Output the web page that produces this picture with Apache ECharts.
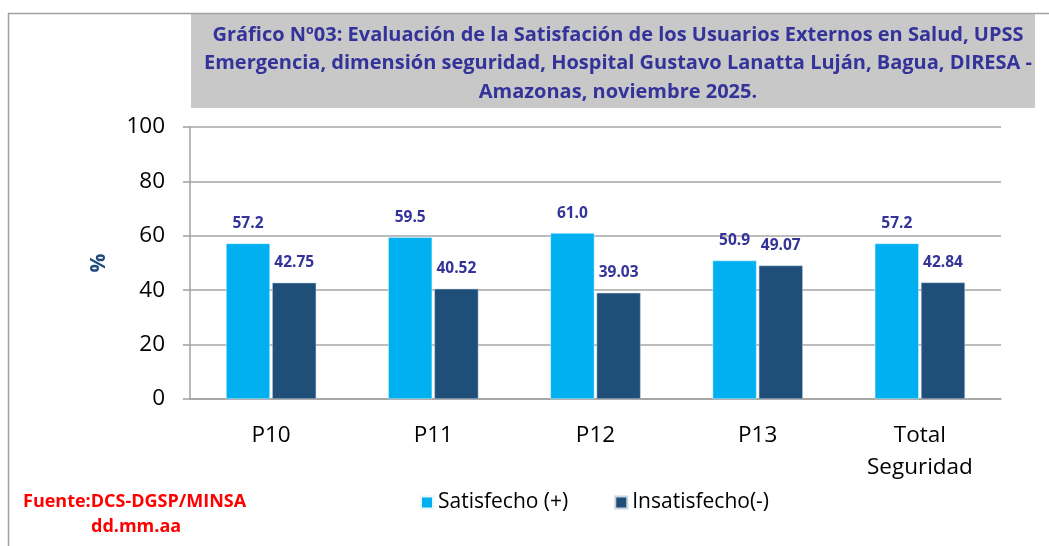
<!DOCTYPE html>
<html><head><meta charset="utf-8">
<script src="https://cdn.jsdelivr.net/npm/echarts@6/dist/echarts.min.js"></script>
<style>html,body{margin:0;padding:0;background:#fff}#c{width:1049px;height:546px}</style>
</head><body><div id="c"></div>
<script>
const categories = ['P10', 'P11', 'P12', 'P13', 'Total\nSeguridad'];
const satisfecho = [57.2, 59.5, 61.0, 50.9, 57.2];
const insatisfecho = [42.75, 40.52, 39.03, 49.07, 42.84];
const yTicks = [0, 20, 40, 60, 80, 100];
const seriesNames = ['Satisfecho (+)', 'Insatisfecho(-)'];
const titleText = 'Gráfico Nº03: Evaluación de la Satisfación de los Usuarios Externos en Salud, UPSS\nEmergencia, dimensión seguridad, Hospital Gustavo Lanatta Luján, Bagua, DIRESA -\nAmazonas, noviembre 2025.';

const FONT = '"Open Sans", sans-serif';
const chart = echarts.init(document.getElementById('c'));
const labelStyle = {show: true, position: 'top', distance: 12, color: '#333399', fontWeight: 'bold', fontSize: 15.5, fontFamily: FONT};
chart.setOption({
  animation: false,
  textStyle: {fontFamily: FONT},
  title: {
    text: titleText, left: 613, top: 16, textAlign: 'center',
    textStyle: {color: '#333399', fontWeight: 'bold', fontSize: 20, lineHeight: 28.5, fontFamily: FONT}
  },
  graphic: [
    {type: 'rect', z: -1, shape: {x: 191, y: 14, width: 844, height: 94}, style: {fill: '#c8c8c8'}},
    {type: 'line', shape: {x1: 8, y1: 13.5, x2: 1049, y2: 13.5}, style: {stroke: '#a0a0a0', lineWidth: 1.5}},
    {type: 'line', shape: {x1: 8.5, y1: 13, x2: 8.5, y2: 546}, style: {stroke: '#a0a0a0', lineWidth: 1.5}},
    {type: 'text', left: 23, top: 493, style: {text: 'Fuente:DCS-DGSP/MINSA', fill: '#ff0000', font: 'bold 18px ' + FONT}},
    {type: 'text', left: 91, top: 518, style: {text: 'dd.mm.aa', fill: '#ff0000', font: 'bold 18px ' + FONT}}
  ],
  legend: {
    data: seriesNames, left: 415, top: 487, itemWidth: 12, itemHeight: 12, itemGap: 46,
    icon: 'rect',
    textStyle: {fontSize: 21, color: '#000', fontFamily: FONT}
  },
  grid: {left: 190, right: 48, top: 127, bottom: 147},
  xAxis: {
    type: 'category', data: categories,
    axisLine: {lineStyle: {color: '#a0a0a0', width: 1.5}},
    axisTick: {show: false},
    axisLabel: {fontSize: 22.5, color: '#000', margin: 21, lineHeight: 32, fontFamily: FONT}
  },
  yAxis: {
    type: 'value', min: 0, max: 100, interval: 20,
    name: '%', nameLocation: 'middle', nameGap: 80, nameRotate: 90,
    nameTextStyle: {color: '#1f497d', fontWeight: 'bold', fontSize: 21, fontFamily: FONT},
    axisLine: {show: true, lineStyle: {color: '#a0a0a0', width: 1.5}},
    axisTick: {show: true, length: 7, lineStyle: {color: '#a0a0a0', width: 1.5}},
    splitLine: {lineStyle: {color: '#a6a6a6', width: 1.5}},
    axisLabel: {fontSize: 22.5, color: '#000', margin: 25, fontFamily: FONT,
      formatter: v => yTicks.includes(v) ? String(v) : ''}
  },
  series: [
    {name: seriesNames[0], type: 'bar', data: satisfecho, barWidth: 44, barGap: '5%',
      itemStyle: {color: '#00b0f0', borderColor: '#e8f6fd', borderWidth: 0.5},
      label: Object.assign({}, labelStyle, {formatter: p => p.value.toFixed(1)})},
    {name: seriesNames[1], type: 'bar', data: insatisfecho, barWidth: 44,
      itemStyle: {color: '#1f4e79', borderColor: '#c8d4e0', borderWidth: 0.5},
      label: Object.assign({}, labelStyle, {formatter: p => p.value.toFixed(2)})}
  ]
});
</script></body></html>
